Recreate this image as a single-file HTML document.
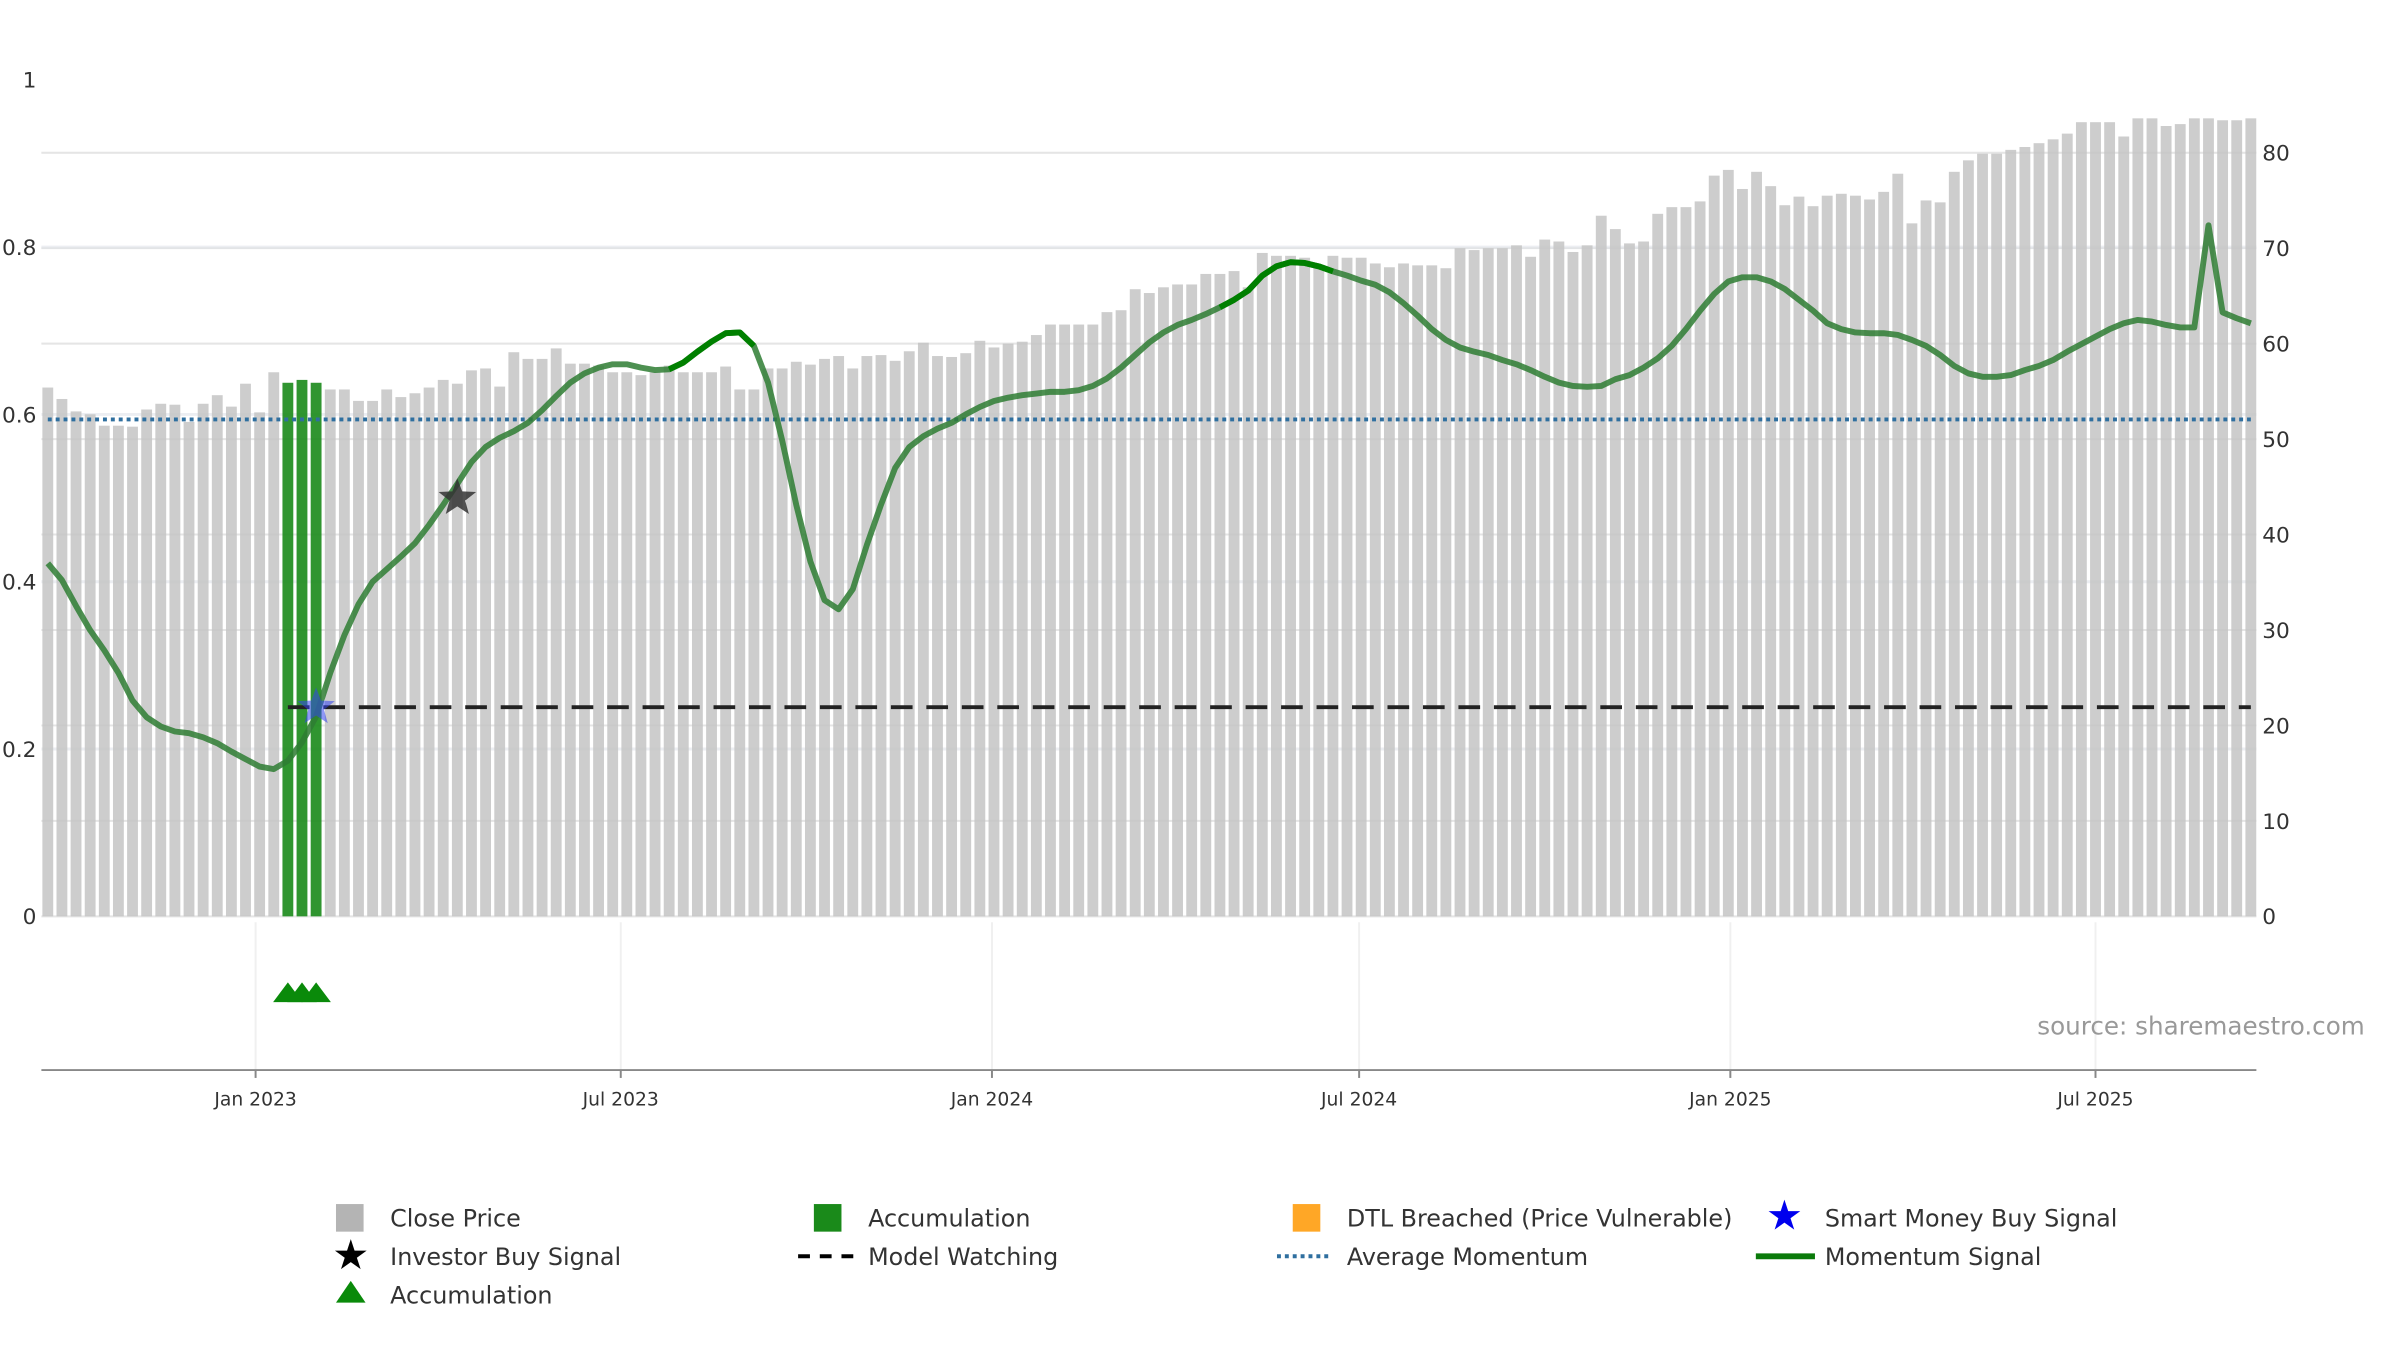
<!DOCTYPE html>
<html><head><meta charset="utf-8"><style>
html,body{margin:0;padding:0;background:#fff;}
svg{display:block;font-family:"DejaVu Sans","Liberation Sans",sans-serif;}
</style></head><body>
<svg id="chart" width="2400" height="1350" viewBox="0 0 2400 1350" xmlns="http://www.w3.org/2000/svg">
<g transform="scale(0.98532)">
<g id="grid"></g>
<g id="bars"></g>
<g id="lines"></g>
<g id="marks"></g>
<g id="axes"></g>
<text x="2400" y="1050" text-anchor="end" font-size="25" fill="#999">source: sharemaestro.com</text>
<g id="legend" font-size="24.2" fill="#333">
  <rect x="341" y="1222" width="28" height="28" fill="#b4b4b4"/>
  <text x="396" y="1245">Close Price</text>
  <rect x="826" y="1222" width="28" height="28" fill="#1a8a1a"/>
  <text x="881" y="1245">Accumulation</text>
  <rect x="1312" y="1222" width="28" height="28" fill="#ffa726"/>
  <text x="1367" y="1245">DTL Breached (Price Vulnerable)</text>
  <text x="1811" y="1248" font-size="42" fill="#0000ee" text-anchor="middle">★</text>
  <text x="1852" y="1245">Smart Money Buy Signal</text>
  <text x="356" y="1288" font-size="42" fill="#000" text-anchor="middle">★</text>
  <text x="396" y="1284">Investor Buy Signal</text>
  <line x1="810" y1="1275" x2="866" y2="1275" stroke="#000" stroke-width="4" stroke-dasharray="12,10"/>
  <text x="881" y="1284">Model Watching</text>
  <line x1="1296" y1="1275" x2="1352" y2="1275" stroke="#2f6f9f" stroke-width="4" stroke-dasharray="4,4"/>
  <text x="1367" y="1284">Average Momentum</text>
  <line x1="1782" y1="1275" x2="1842" y2="1275" stroke="#0a7a0a" stroke-width="6"/>
  <text x="1852" y="1284">Momentum Signal</text>
  <polygon points="356,1300 341,1322 371,1322" fill="#0a8a0a"/>
  <text x="396" y="1323">Accumulation</text>
</g>
</g>
</svg>
<script>
const closePrice = [55.4,54.2,52.9,52.6,51.4,51.4,51.3,53.1,53.7,53.6,51.8,53.7,54.6,53.4,55.8,52.8,57.0,55.9,56.2,55.9,55.2,55.2,54.0,54.0,55.2,54.4,54.8,55.4,56.2,55.8,57.2,57.4,55.5,59.1,58.4,58.4,59.5,57.9,57.9,57.7,57.0,57.0,56.7,57.0,57.7,57.0,57.0,57.0,57.6,55.2,55.2,57.4,57.4,58.1,57.8,58.4,58.7,57.4,58.7,58.8,58.2,59.2,60.1,58.7,58.6,59.0,60.3,59.6,60.0,60.2,60.9,62.0,62.0,62.0,62.0,63.3,63.5,65.7,65.3,65.9,66.2,66.2,
67.3,67.3,67.6,65.9,69.5,69.2,69.2,69.0,68.2,69.2,69.0,69.0,68.4,68.0,68.4,68.2,68.2,67.9,70.0,69.8,70.0,70.0,70.3,69.1,70.9,70.7,69.6,70.3,73.4,72.0,70.5,70.7,73.6,74.3,74.3,74.9,77.6,78.2,76.2,78.0,76.5,74.5,75.4,74.4,75.5,75.7,75.5,75.1,75.9,77.8,72.6,75.0,74.8,78.0,79.2,79.9,79.9,80.3,80.6,81.0,81.4,82.0,83.2,83.2,83.2,81.7,83.6,83.6,82.8,83.0,83.6,83.6,83.4,83.4,83.6];
const momentum = [.422,.402,.371,.342,.318,.291,.258,.238,.227,.221,.219,.214,.207,.197,.188,.179,.176,.186,.208,.239,.291,.336,.373,.40,.415,.43,.446,.468,.492,.517,.543,.561,.572,.58,.59,.605,.622,.638,.649,.656,.66,.66,.656,.653,.654,.662,.675,.687,.697,.698,.682,.638,.569,.492,.424,.378,.367,.391,.444,.492,.536,.561,.574,.583,.59,.60,.609,.616,.62,.623,.625,.627,.627,.629,.634,.643,.656,.671,.686,.698,.707,.713,.72,.728,.737,.748,.766,.777,.782,.781,.777,.771,.766,.76,.755,.746,.733,.718,.702,.689,.68,.675,.671,.665,.66,.653,.645,.638,.634,.633,.634,.642,.647,.656,.667,.682,.702,.724,.744,.759,.764,.764,.759,.75,.737,.724,.709,.702,.698,.697,.697,.695,.689,.682,.671,.658,.649,.645,.645,.647,.653,.658,.665,.675,.684,.693,.702,.709,.713,.711,.707,.704,.704,.826,.722,.715,.709];
const accumulationIdx = [17,18,19];
const strongIdx = [[44,50],[83,91]];
const smartMoneyIdx = [19];
const investorBuyIdx = [29];
const avgMomentum = 0.594;
const modelWatching = 0.25;
const modelWatchStart = 17;
const leftTicks = [0,0.2,0.4,0.6,0.8,1];
const leftTickLabels = ["0","0.2","0.4","0.6","0.8","1"];
const rightTicks = [0,10,20,30,40,50,60,70,80];
const xTickDates = ["2023-01-01","2023-07-01","2024-01-01","2024-07-01","2025-01-01","2025-07-01"];
const xTickLabels = ["Jan 2023","Jul 2023","Jan 2024","Jul 2024","Jan 2025","Jul 2025"];
const startDate = "2022-09-20";

const NS="http://www.w3.org/2000/svg";
const DAY=86400000, t0=Date.parse("2023-01-01");
function xDate(ms){return 259.4+(ms-t0)/DAY*2.0475;}
function xIdx(i){return xDate(Date.parse(startDate)+i*7*DAY);}
function yR(v){return 930-v*9.6875;}
function yL(v){return 930-v*849;}
function mk(tag,attrs,parent){const e=document.createElementNS(NS,tag);for(const k in attrs)e.setAttribute(k,attrs[k]);parent.appendChild(e);return e;}
const G=id=>document.getElementById(id);
const L=42,R=2290;

rightTicks.forEach(v=>{const e=mk('line',{x1:L,x2:R,y1:yR(v),y2:yR(v),stroke:'#f0f0f0','stroke-width':2},G('grid'));

});
leftTicks.slice(1,5).forEach(v=>{const e=mk('line',{x1:L,x2:R,y1:yL(v),y2:yL(v),stroke:'#eceef2','stroke-width':3},G('grid'));

});
xTickDates.forEach(d=>{const x=xDate(Date.parse(d));const e=mk('line',{x1:x,x2:x,y1:936,y2:1086,stroke:'#f0f0f0','stroke-width':2},G('grid'));

});

closePrice.forEach((v,i)=>{const acc=accumulationIdx.includes(i);
const e=mk('rect',{x:xIdx(i)-5.5,y:yR(v),width:11,height:930-yR(v),fill:acc?'#1a8a1a':'#c4c4c4','fill-opacity':acc?0.9:0.85},G('bars'));

});
rightTicks.forEach(v=>{mk('line',{x1:L,x2:R,y1:yR(v),y2:yR(v),stroke:'#b8b8b8','stroke-width':2,'stroke-opacity':0.2},G('grid'));});

let e=mk('line',{x1:xIdx(0),x2:xIdx(closePrice.length-1),y1:yL(avgMomentum),y2:yL(avgMomentum),stroke:'#2f6f9f','stroke-width':4,'stroke-dasharray':'4,4'},G('lines'));


e=mk('line',{x1:xIdx(modelWatchStart),x2:xIdx(closePrice.length-1),y1:yL(modelWatching),y2:yL(modelWatching),stroke:'#222','stroke-width':4,'stroke-dasharray':'22,14'},G('lines'));


const pts=momentum.map((v,i)=>xIdx(i).toFixed(1)+','+yL(v).toFixed(1)).join(' ');
e=mk('polyline',{points:pts,fill:'none',stroke:'#2e7d32','stroke-opacity':0.85,'stroke-width':6,'stroke-linejoin':'round'},G('lines'));


strongIdx.forEach(([a,b])=>{const p=momentum.slice(a,b+1).map((v,k)=>xIdx(a+k).toFixed(1)+','+yL(v).toFixed(1)).join(' ');
const s=mk('polyline',{points:p,fill:'none',stroke:'#008000','stroke-width':6,'stroke-linejoin':'round'},G('lines'));

});

function star(cx,cy,r,fill,op){const p=[];for(let k=0;k<10;k++){const a=-Math.PI/2+k*Math.PI/5;const rr=k%2?r*0.42:r;p.push((cx+rr*Math.cos(a)).toFixed(1)+','+(cy+rr*Math.sin(a)).toFixed(1));}
return mk('polygon',{points:p.join(' '),fill:fill,'fill-opacity':op},G('marks'));}
smartMoneyIdx.forEach(i=>{const s=star(xIdx(i),yL(modelWatching),20,'#3344ee',0.55);

});
investorBuyIdx.forEach(i=>{const s=star(xIdx(i),yL(0.5),20,'#333',0.85);

});
accumulationIdx.forEach(i=>{const x=xIdx(i);const t=mk('polygon',{points:`${x},997 ${x-15},1017 ${x+15},1017`,fill:'#0a8a0a'},G('marks'));

});

e=mk('line',{x1:L,x2:R,y1:1086,y2:1086,stroke:'#888','stroke-width':2},G('axes'));


leftTicks.forEach((v,k)=>{const t=mk('text',{x:37,y:yL(v)+8,'text-anchor':'end','font-size':22,fill:'#333'},G('axes'));t.textContent=leftTickLabels[k];

});
rightTicks.forEach(v=>{const t=mk('text',{x:2296,y:yR(v)+8,'font-size':22,fill:'#333'},G('axes'));t.textContent=String(v);

});
xTickDates.forEach((d,k)=>{const x=xDate(Date.parse(d));
mk('line',{x1:x,x2:x,y1:1086,y2:1094,stroke:'#888','stroke-width':2},G('axes'));
const t=mk('text',{x:x,y:1122,'text-anchor':'middle','font-size':19,fill:'#333'},G('axes'));t.textContent=xTickLabels[k];

});
</script>
</body></html>
